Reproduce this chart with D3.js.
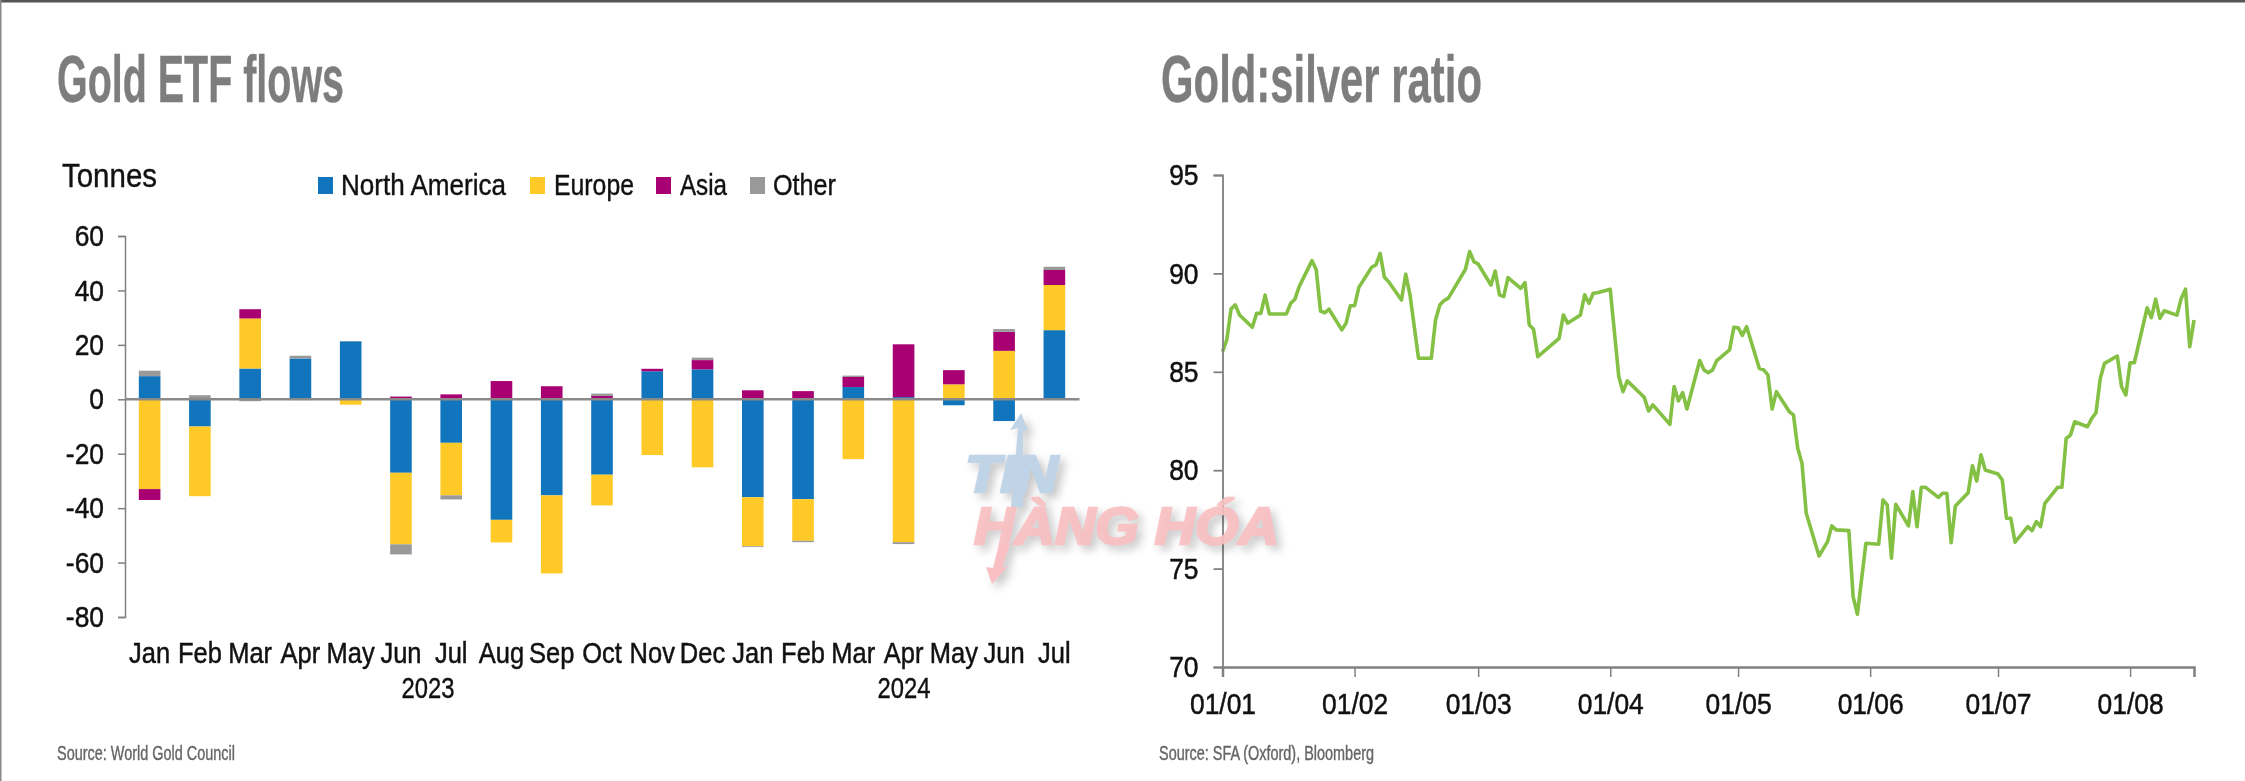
<!DOCTYPE html>
<html>
<head>
<meta charset="utf-8">
<script src="https://cdn.jsdelivr.net/npm/d3@7"></script>
<style>
  html, body { margin: 0; padding: 0; background: #fff; }
  svg { display: block; filter: blur(0.6px); }
  text { font-family: "Liberation Sans", Arial, sans-serif; }
</style>
</head>
<body>
<script>
// gold etf flows, tonnes per month
var months = ['Jan','Feb','Mar','Apr','May','Jun','Jul','Aug','Sep','Oct','Nov','Dec',
  'Jan','Feb','Mar','Apr','May','Jun','Jul'];
var northAmerica = [8.5,-10,11.3,15,21.3,-27,-16,-44.3,-35.3,-27.7,10.3,11,-36,-36.7,4.5,0.8,-2.2,-8,25.4];
var europe = [-33,-25.6,18.4,-0.3,-2,-26.3,-19.3,-8.3,-28.7,-11.3,-20.5,-25,-18,-15.3,-22,-52.5,5.5,17.8,16.6];
var asia = [-4,0,3.4,0,0,1,1.8,6.7,4.8,1.2,0.9,3.4,3.3,3,3.7,19.4,5.2,7,5.5];
var other = [2,1.5,-0.7,1,0.1,-3.7,-1.5,0,0,0.9,0,0.9,-0.3,-0.5,0.5,-0.7,0,1,1.2];
var flowTicks = [60,40,20,0,-20,-40,-60,-80];
var seriesNames = ['North America','Europe','Asia','Other'];
var seriesColors = ['#1175bd','#ffca28','#a80072','#999999'];

// gold:silver ratio, days counted from 1 jan 2024
var ratioDays = [0,1,2,3,4,7,8,9,10,11,15,16,17,18,21,22,23,24,25,28,29,30,31,32,35,36,37,38,39,42,43,44,46,49,
  50,51,52,53,56,57,58,59,60,63,64,65,66,67,70,71,72,73,74,79,80,81,84,85,86,87,88,91,93,94,95,98,99,
  100,101,105,106,107,108,109,112,113,114,115,116,119,120,121,122,123,126,127,128,129,130,133,134,135,136,137,
  140,142,143,144,147,148,149,151,154,155,156,157,158,161,162,163,164,165,168,169,170,171,172,175,176,177,178,179,
  182,183,184,185,186,189,190,191,192,193,196,197,198,199,200,203,204,205,206,207,210,211,212,213,214,
  217,218,219,220,221,224,225,226,227,228];
var ratioValues = [86.03,86.62,88.19,88.4,87.89,87.26,87.97,87.97,88.9,87.94,87.94,88.48,88.69,89.33,90.65,90.18,88.09,88,88.18,87.13,87.47,88.36,88.36,89.29,90.31,90.43,91.02,89.8,89.58,88.65,89.96,88.91,85.69,85.69,
  87.63,88.4,88.62,88.74,89.84,90.2,91.11,90.6,90.48,89.41,90.12,88.91,88.82,89.79,89.24,89.53,87.38,87.16,85.77,86.7,87.89,87.47,87.89,88.91,88.48,88.99,89.02,89.19,84.76,83.99,84.54,83.91,83.69,
  83.01,83.32,82.33,84.25,83.52,83.94,83.11,85.57,85.09,84.96,85.09,85.57,86.11,87.26,87.24,86.85,87.29,85.17,85.1,84.84,83.11,83.99,82.98,82.81,81.12,80.35,77.81,
  75.64,76.37,77.17,76.97,76.93,73.58,72.68,76.29,76.24,78.49,78.24,75.53,78.27,77.17,78.91,77.13,79.13,79.13,78.62,78.83,78.83,76.32,78.18,78.86,80.23,79.45,80.78,80.01,
  79.81,79.5,77.56,77.56,76.34,77.13,76.93,77.39,77.13,78.32,79.13,79.13,81.61,81.78,82.46,82.21,82.63,82.92,84.66,85.43,85.8,84.24,83.82,85.46,85.46,
  88.25,87.75,88.69,87.71,88.1,87.88,88.73,89.2,86.27,87.63];
var ratioTicks = [95,90,85,80,75,70];
var monthStarts = [0,1,2,3,4,5,6,7];

var width = 2245, height = 781;
var textColor = '#111', titleColor = '#7d7d7d', axisColor = '#808080';

var svg = d3.select('body').append('svg')
  .attr('width', width)
  .attr('height', height);

// the scanned page edge
svg.append('rect').attr('x', 0).attr('y', 0).attr('width', width).attr('height', 2.5).attr('fill', '#555');
svg.append('rect').attr('x', 0).attr('y', 0).attr('width', 1.5).attr('height', height).attr('fill', '#888');

// the print font is narrow, so squeeze the glyphs
var squeeze = function(factor) {
  return function() {
    d3.select(this)
      .attr('lengthAdjust', 'spacingAndGlyphs')
      .attr('textLength', this.getComputedTextLength() * factor)
      .attr('stroke', textColor)
      .attr('stroke-width', 0.5);
  };
};

// text squeezed or stretched to a width
var label = function(str, x, y, size, color, length, weight) {
  return svg.append('text')
    .attr('x', x).attr('y', y)
    .attr('font-size', size)
    .attr('font-weight', weight || 'normal')
    .attr('fill', color)
    .attr('stroke', color)
    .attr('stroke-width', 0.4)
    .attr('lengthAdjust', 'spacingAndGlyphs')
    .attr('textLength', length)
    .text(str);
};

label('Gold ETF flows', 57, 102, 66, titleColor, 287, 'bold');
label('Gold:silver ratio', 1161, 102, 66, titleColor, 321, 'bold');
label('Tonnes', 62, 187, 33, textColor, 95);
label('Source: World Gold Council', 57, 760, 20, '#666', 178);
label('Source: SFA (Oxford), Bloomberg', 1159, 760, 20, '#666', 215);

// ---- flows chart ----
var rows = months.map(function(m, i) {
  return { i: i, 'North America': northAmerica[i], 'Europe': europe[i], 'Asia': asia[i], 'Other': other[i] };
});

var x = d3.scaleBand()
  .domain(d3.range(months.length))
  .range([124.5, 1079.5])
  .paddingInner(0.57)
  .paddingOuter(0.285);

var y = d3.scaleLinear()
  .domain([-80, 60])
  .range([617, 236]);

var stack = d3.stack()
  .keys(seriesNames)
  .offset(d3.stackOffsetDiverging);

var layers = svg.append('g').selectAll('g')
  .data(stack(rows))
  .enter().append('g')
  .attr('fill', function(d, i) { return seriesColors[i]; });

layers.selectAll('rect')
  .data(function(d) { return d; })
  .enter().append('rect')
  .attr('x', function(d) { return x(d.data.i); })
  .attr('width', x.bandwidth())
  .attr('y', function(d) { return y(d[1]); })
  .attr('height', function(d) { return y(d[0]) - y(d[1]); });

var flowAxis = svg.append('g')
  .attr('transform', 'translate(125,0)')
  .call(d3.axisLeft(y).tickValues(flowTicks).tickSize(7).tickPadding(14).tickFormat(String));
flowAxis.selectAll('line, path').attr('stroke', axisColor).attr('stroke-width', 1.5);
flowAxis.selectAll('text')
  .attr('font-size', 30).attr('fill', textColor)
  .attr('font-family', '"Liberation Sans", Arial, sans-serif')
  .each(squeeze(0.88));

// zero line
svg.append('line')
  .attr('x1', 125).attr('x2', 1079.5)
  .attr('y1', y(0)).attr('y2', y(0))
  .attr('stroke', '#8a8a8a').attr('stroke-width', 2.5);

svg.append('g').selectAll('text')
  .data(months)
  .enter().append('text')
  .attr('x', function(d, i) { return x(i) + x.bandwidth() / 2; })
  .attr('y', 663)
  .attr('text-anchor', 'middle')
  .attr('font-size', 30)
  .attr('fill', textColor)
  .text(function(d) { return d; })
  .each(squeeze(0.85));

label('2023', 428, 698, 30, textColor, 53).attr('text-anchor', 'middle');
label('2024', 904, 698, 30, textColor, 53).attr('text-anchor', 'middle');

// legend
var legendSwatchX = [318, 530, 656, 750];
var legendTextX = [341, 554, 680, 773];
var legendWidths = [165, 80, 47, 63];
seriesNames.forEach(function(name, i) {
  svg.append('rect')
    .attr('x', legendSwatchX[i]).attr('y', 177)
    .attr('width', 15).attr('height', 17)
    .attr('fill', seriesColors[i]);
  label(name, legendTextX[i], 195, 29, textColor, legendWidths[i]);
});

// ---- ratio chart ----
var start = new Date(2024, 0, 1);
var xTime = d3.scaleTime()
  .domain([start, d3.timeDay.offset(start, 228.7)])
  .range([1222.5, 2194]);

var yRatio = d3.scaleLinear()
  .domain([70, 95])
  .range([667, 175]);

var line = d3.line()
  .x(function(d) { return xTime(d3.timeDay.offset(start, d)); })
  .y(function(d, i) { return yRatio(ratioValues[i]); });

svg.append('path')
  .datum(ratioDays)
  .attr('fill', 'none')
  .attr('stroke', '#84c044')
  .attr('stroke-width', 3.6)
  .attr('stroke-linejoin', 'round')
  .attr('d', line);

var ratioAxisY = svg.append('g')
  .attr('transform', 'translate(1222.5,0)')
  .call(d3.axisLeft(yRatio).tickValues(ratioTicks).tickSize(9).tickPadding(15).tickFormat(String));
ratioAxisY.selectAll('line, path').attr('stroke', axisColor).attr('stroke-width', 1.8);
ratioAxisY.selectAll('text')
  .attr('font-size', 30).attr('fill', textColor)
  .attr('font-family', '"Liberation Sans", Arial, sans-serif')
  .each(squeeze(0.88));

var ratioAxisX = svg.append('g')
  .attr('transform', 'translate(0,667)')
  .call(d3.axisBottom(xTime)
    .tickValues(monthStarts.map(function(m) { return new Date(2024, m, 1); }))
    .tickSize(10).tickPadding(16)
    .tickFormat(d3.timeFormat('%d/%m')));
ratioAxisX.selectAll('line').attr('stroke', axisColor).attr('stroke-width', 1.5);
ratioAxisX.select('path').attr('stroke', axisColor).attr('stroke-width', 2.5);
ratioAxisX.selectAll('text')
  .attr('font-size', 30).attr('fill', textColor)
  .attr('font-family', '"Liberation Sans", Arial, sans-serif')
  .each(squeeze(0.88));

// ---- watermark ----
var mark = svg.append('g').style('filter', 'drop-shadow(5px 5px 4px rgba(0,0,0,0.22))');
var markBlue = '#c0d4e7', markRed = '#f9bfc2';

mark.append('path')
  .attr('d', 'M1011,507 L1018,428 L1010,430 L1021,413 L1028,430 L1023,431 L1023,507 Z')
  .attr('fill', markBlue);
mark.append('text')
  .attr('x', 965).attr('y', 492)
  .attr('font-size', 52).attr('font-weight', 'bold').attr('font-style', 'italic')
  .attr('fill', markBlue)
  .attr('stroke', markBlue).attr('stroke-width', 2.5)
  .attr('lengthAdjust', 'spacingAndGlyphs').attr('textLength', 93)
  .text('TIN');

mark.append('path')
  .attr('d', 'M999,544 L1010,544 L1002,568 L1008,566 L992,584 L986,567 L993,568 Z')
  .attr('fill', markRed);
mark.append('text')
  .attr('x', 974).attr('y', 544)
  .attr('font-size', 52).attr('font-weight', 'bold').attr('font-style', 'italic')
  .attr('fill', markRed)
  .attr('stroke', markRed).attr('stroke-width', 2.5)
  .attr('opacity', 0.92)
  .attr('lengthAdjust', 'spacingAndGlyphs').attr('textLength', 305)
  .text('HÀNG HÓA');
</script>
</body>
</html>
